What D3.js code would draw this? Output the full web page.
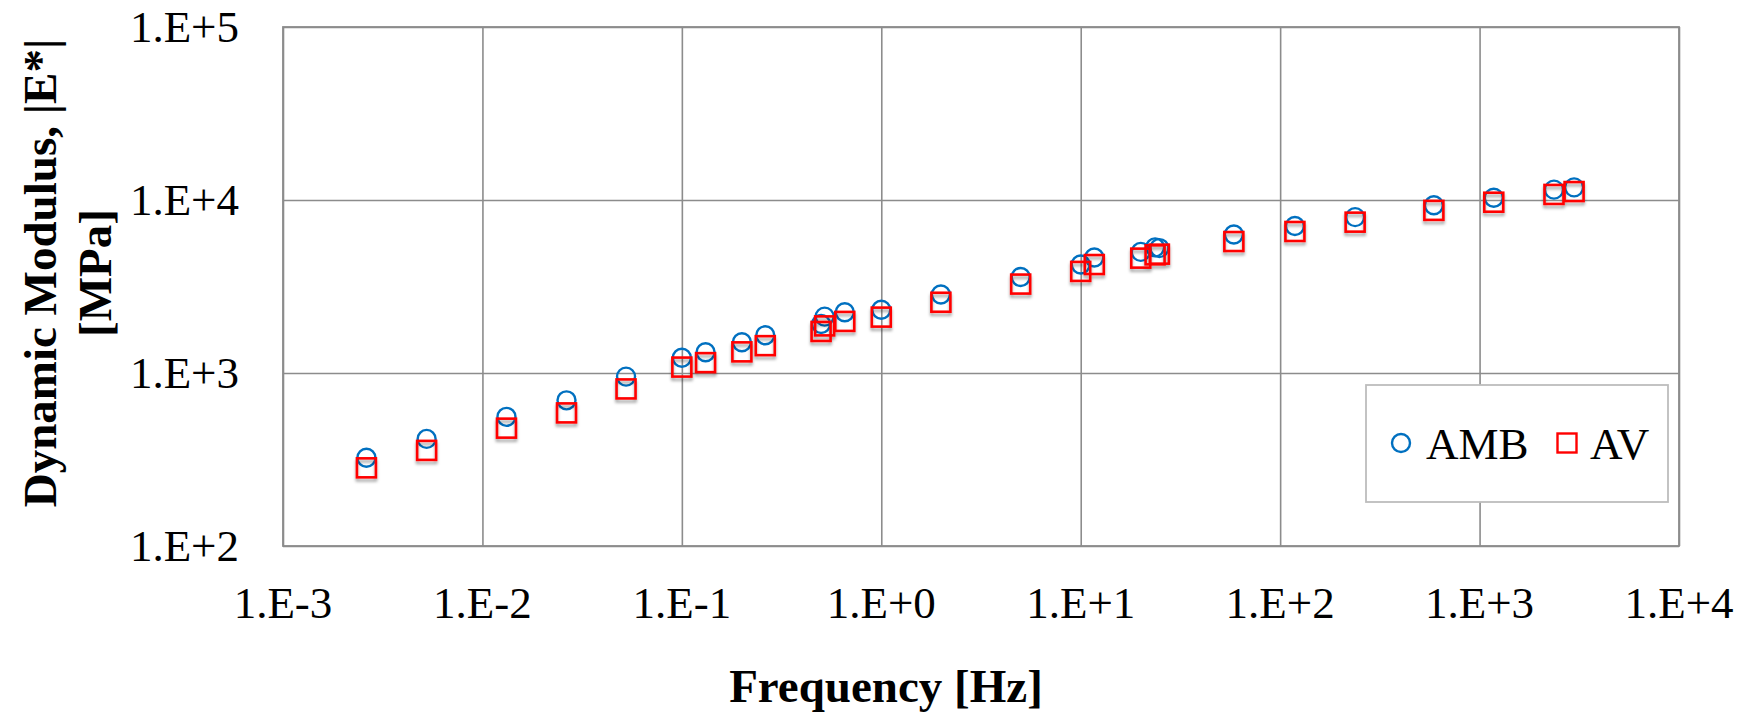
<!DOCTYPE html>
<html>
<head>
<meta charset="utf-8">
<script src="https://cdn.jsdelivr.net/npm/d3@7/dist/d3.min.js"></script>
<style>
  html, body { margin: 0; padding: 0; background: #fff; }
  svg { display: block; font-family: "Liberation Serif", "Times New Roman", serif; }
  .grid line { stroke: #8c8c8c; stroke-width: 1.6; }
  .grid .domain { display: none; }
  .tick-label { font-size: 45px; fill: #000; }
  .axis-title { font-size: 47px; font-weight: bold; fill: #000; }
</style>
</head>
<body>
<div id="chart"></div>
<script>
const W = 1752;
const H = 714;
const PLOT = { left: 283, right: 1679, top: 27, bottom: 546 };

const X_TICKS = [1e-3, 1e-2, 1e-1, 1e0, 1e1, 1e2, 1e3, 1e4];
const Y_TICKS = [1e2, 1e3, 1e4, 1e5];

// frequency [Hz]
const freq = [0.00262, 0.00525, 0.0132, 0.0264, 0.0525, 0.1, 0.1315, 0.2, 0.262, 0.499, 0.52, 0.656, 1.0,
  1.99, 5.0, 10, 11.7, 20, 23.6, 24.8, 58.6, 118.6, 237.7, 590, 1178, 2361, 2978];
// |E*| [MPa]
const amb = [324, 416, 558, 695, 953, 1225, 1318, 1507, 1652, 1918, 2118, 2244, 2322,
  2845, 3590, 4236, 4656, 5012, 5321, 5273, 6324, 7079, 7962, 9333, 10310, 11480, 11830];
const av = [283, 357, 480, 588, 809, 1082, 1148, 1325, 1439, 1738, 1872, 1987, 2104,
  2564, 3266, 3866, 4236, 4613, 4818, 4864, 5754, 6577, 7447, 8710, 9709, 10770, 11190];

const BLUE = "#0070c0";
const RED = "#ff0000";

function sciLabel(v) {
  const e = Math.round(Math.log10(v));
  return `1.E${e < 0 ? "-" : "+"}${Math.abs(e)}`;
}

const x = d3.scaleLog().domain([1e-3, 1e4]).range([PLOT.left, PLOT.right]);
const y = d3.scaleLog().domain([1e2, 1e5]).range([PLOT.bottom, PLOT.top]);

const svg = d3.select("#chart").append("svg")
  .attr("width", W).attr("height", H)
  .attr("viewBox", `0 0 ${W} ${H}`);

const defs = svg.append("defs");
const shadow = defs.append("filter").attr("id", "shadow")
  .attr("x", "-50%").attr("y", "-50%").attr("width", "200%").attr("height", "200%");
shadow.append("feDropShadow").attr("dx", 0).attr("dy", 3).attr("stdDeviation", 1.6)
  .attr("flood-color", "#000").attr("flood-opacity", 0.35);

// gridlines
svg.append("g").attr("class", "grid")
  .attr("transform", `translate(0,${PLOT.bottom})`)
  .call(d3.axisBottom(x).tickValues(X_TICKS).tickSize(-(PLOT.bottom - PLOT.top)).tickFormat(""));
svg.append("g").attr("class", "grid")
  .attr("transform", `translate(${PLOT.left},0)`)
  .call(d3.axisLeft(y).tickValues(Y_TICKS).tickSize(-(PLOT.right - PLOT.left)).tickFormat(""));

svg.append("rect")
  .attr("x", PLOT.left).attr("y", PLOT.top)
  .attr("width", PLOT.right - PLOT.left).attr("height", PLOT.bottom - PLOT.top)
  .attr("fill", "none").attr("stroke", "#8c8c8c").attr("stroke-width", 1.8);

// tick labels
svg.append("g").selectAll("text").data(X_TICKS).join("text")
  .attr("class", "tick-label")
  .attr("x", (d) => x(d)).attr("y", 618)
  .attr("text-anchor", "middle")
  .text(sciLabel);

svg.append("g").selectAll("text").data(Y_TICKS).join("text")
  .attr("class", "tick-label")
  .attr("x", 239).attr("y", (d) => y(d))
  .attr("dy", "0.33em")
  .attr("text-anchor", "end")
  .text(sciLabel);

// axis titles
svg.append("text").attr("class", "axis-title")
  .attr("x", 886).attr("y", 702)
  .attr("text-anchor", "middle")
  .text("Frequency [Hz]");

const yTitle = svg.append("text").attr("class", "axis-title")
  .attr("transform", "translate(0,273) rotate(-90)")
  .attr("text-anchor", "middle");
yTitle.append("tspan").attr("x", 0).attr("y", 56).text("Dynamic Modulus, |E*|");
yTitle.append("tspan").attr("x", 0).attr("y", 111).text("[MPa]");

// data
const pts = freq.map((f, i) => ({ f, amb: amb[i], av: av[i] }));

svg.append("g").selectAll("circle").data(pts).join("circle")
  .attr("cx", (d) => x(d.f)).attr("cy", (d) => y(d.amb))
  .attr("r", 9)
  .attr("fill", "none").attr("stroke", BLUE).attr("stroke-width", 2.4);

const SQ = 19;
svg.append("g").attr("filter", "url(#shadow)").selectAll("rect").data(pts).join("rect")
  .attr("x", (d) => x(d.f) - SQ / 2).attr("y", (d) => y(d.av) - SQ / 2)
  .attr("width", SQ).attr("height", SQ)
  .attr("fill", "none").attr("stroke", RED).attr("stroke-width", 2.6);

// legend
const lg = svg.append("g");
lg.append("rect")
  .attr("x", 1366).attr("y", 385).attr("width", 302).attr("height", 117)
  .attr("fill", "#fff").attr("stroke", "#bdbdbd").attr("stroke-width", 1.8);
lg.append("circle").attr("cx", 1401).attr("cy", 443).attr("r", 9)
  .attr("fill", "none").attr("stroke", BLUE).attr("stroke-width", 2.4);
lg.append("text").attr("class", "tick-label").attr("x", 1426).attr("y", 459).text("AMB");
lg.append("rect").attr("x", 1567 - 9.5).attr("y", 443 - 9.5).attr("width", 19).attr("height", 19)
  .attr("fill", "none").attr("stroke", RED).attr("stroke-width", 2.4);
lg.append("text").attr("class", "tick-label").attr("x", 1590).attr("y", 459).text("AV");
</script>
</body>
</html>
